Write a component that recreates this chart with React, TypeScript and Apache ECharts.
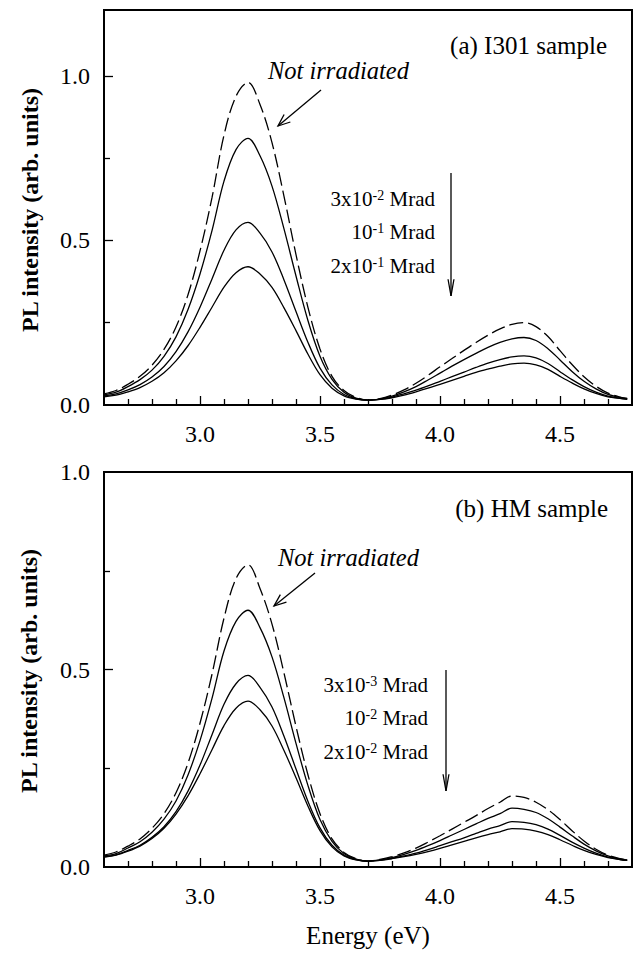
import React, { useEffect, useRef } from "react";
import * as echarts from "echarts";

// Photon energy (eV)
const energy = [
  2.6, 2.65, 2.7, 2.75, 2.8, 2.85, 2.9, 2.95, 3.0, 3.05, 3.1, 3.15, 3.2, 3.25, 3.3, 3.35, 3.4, 3.45, 3.5, 3.55,
  3.6, 3.65, 3.7, 3.75, 3.8, 3.85, 3.9, 3.95, 4.0, 4.05, 4.1, 4.15, 4.2, 4.25, 4.3, 4.35, 4.4, 4.45, 4.5, 4.55,
  4.6, 4.65, 4.7, 4.75, 4.78,
];

// (a) I301 sample
const i301NotIrradiated = [
  0.034, 0.044, 0.063, 0.087, 0.121, 0.169, 0.237, 0.335, 0.468, 0.63, 0.82, 0.938, 0.98, 0.913, 0.797, 0.634,
  0.457, 0.296, 0.17, 0.087, 0.044, 0.023, 0.015,
  0.019, 0.03, 0.046, 0.066, 0.09, 0.116, 0.141, 0.166, 0.19, 0.212, 0.231, 0.245, 0.25, 0.238, 0.208, 0.165,
  0.123, 0.086, 0.057, 0.036, 0.024, 0.02,
];
const i301Dose1 = [
  0.031, 0.039, 0.056, 0.077, 0.106, 0.148, 0.207, 0.29, 0.398, 0.53, 0.68, 0.776, 0.81, 0.757, 0.665, 0.535,
  0.392, 0.256, 0.148, 0.078, 0.039, 0.021, 0.015,
  0.018, 0.027, 0.04, 0.056, 0.076, 0.097, 0.118, 0.138, 0.157, 0.175, 0.19, 0.201, 0.205, 0.196, 0.171, 0.137,
  0.102, 0.072, 0.049, 0.032, 0.023, 0.019,
];
const i301Dose2 = [
  0.028, 0.034, 0.046, 0.062, 0.085, 0.117, 0.162, 0.222, 0.297, 0.383, 0.47, 0.532, 0.555, 0.522, 0.465, 0.38,
  0.284, 0.19, 0.112, 0.061, 0.032, 0.019, 0.015,
  0.017, 0.024, 0.034, 0.045, 0.058, 0.072, 0.086, 0.1, 0.114, 0.127, 0.138, 0.146, 0.149, 0.143, 0.126, 0.101,
  0.077, 0.056, 0.039, 0.027, 0.02, 0.018,
];
const i301Dose3 = [
  0.025, 0.03, 0.04, 0.053, 0.072, 0.098, 0.134, 0.18, 0.236, 0.297, 0.358, 0.402, 0.42, 0.398, 0.357, 0.295,
  0.226, 0.154, 0.092, 0.051, 0.028, 0.018, 0.015,
  0.017, 0.022, 0.03, 0.04, 0.051, 0.063, 0.075, 0.087, 0.099, 0.109, 0.118, 0.125, 0.127, 0.122, 0.108, 0.087,
  0.067, 0.049, 0.035, 0.025, 0.02, 0.017,
];

// (b) HM sample
const hmNotIrradiated = [
  0.03, 0.038, 0.053, 0.071, 0.098, 0.135, 0.188, 0.263, 0.364, 0.488, 0.63, 0.73, 0.765, 0.705, 0.615, 0.491,
  0.356, 0.233, 0.135, 0.071, 0.037, 0.021, 0.015,
  0.019, 0.026, 0.036, 0.048, 0.063, 0.079, 0.096, 0.113, 0.13, 0.148, 0.164, 0.18, 0.176, 0.164, 0.145, 0.12,
  0.092, 0.066, 0.045, 0.03, 0.021, 0.018,
];
const hmDose1 = [
  0.028, 0.034, 0.048, 0.064, 0.088, 0.121, 0.167, 0.233, 0.32, 0.427, 0.547, 0.622, 0.65, 0.606, 0.532, 0.428,
  0.313, 0.206, 0.12, 0.065, 0.034, 0.02, 0.015,
  0.018, 0.024, 0.032, 0.042, 0.054, 0.067, 0.081, 0.095, 0.109, 0.123, 0.135, 0.149, 0.146, 0.138, 0.122, 0.101,
  0.079, 0.058, 0.041, 0.028, 0.02, 0.018,
];
const hmDose2 = [
  0.026, 0.031, 0.042, 0.055, 0.075, 0.102, 0.14, 0.192, 0.258, 0.335, 0.412, 0.464, 0.485, 0.455, 0.405, 0.331,
  0.248, 0.166, 0.099, 0.055, 0.03, 0.019, 0.015,
  0.017, 0.022, 0.028, 0.035, 0.044, 0.054, 0.064, 0.074, 0.085, 0.096, 0.105, 0.115, 0.113, 0.107, 0.096, 0.08,
  0.063, 0.048, 0.035, 0.025, 0.019, 0.017,
];
const hmDose3 = [
  0.025, 0.03, 0.04, 0.053, 0.072, 0.098, 0.134, 0.18, 0.236, 0.297, 0.358, 0.402, 0.42, 0.398, 0.357, 0.295,
  0.226, 0.154, 0.092, 0.051, 0.028, 0.018, 0.015,
  0.017, 0.021, 0.026, 0.032, 0.039, 0.047, 0.056, 0.065, 0.074, 0.082, 0.089, 0.097, 0.096, 0.091, 0.082, 0.069,
  0.055, 0.042, 0.032, 0.024, 0.019, 0.017,
];

// Axis ticks and labels
const xLabelValues = [3.0, 3.5, 4.0, 4.5];
const xMinorTicks = [2.7, 2.8, 2.9, 3.1, 3.2, 3.3, 3.4, 3.6, 3.7, 3.8, 3.9, 4.1, 4.2, 4.3, 4.4, 4.6, 4.7];
const yLabelValuesTop = [0.0, 0.5, 1.0];
const yMajorTicksTop = [0.5, 1.0];
const yLabelValuesBottom = [0.0, 0.5, 1.0];
const yMajorTicksBottom = [0.5];
const yMinorTicks = [0.25, 0.75];

const FONT = '"Liberation Serif", "Times New Roman", Times, serif';

const zip = (ys: number[]) => energy.map((e, i) => [e, ys[i]]);

function arrowEls(x1: number, y1: number, x2: number, y2: number, head: number, angDeg: number) {
  const dx = x1 - x2;
  const dy = y1 - y2;
  const len = Math.hypot(dx, dy);
  const ux = dx / len;
  const uy = dy / len;
  const a = (angDeg * Math.PI) / 180;
  const c = Math.cos(a);
  const s = Math.sin(a);
  const p1 = [x2 + head * (ux * c - uy * s), y2 + head * (ux * s + uy * c)];
  const p2 = [x2 + head * (ux * c + uy * s), y2 + head * (-ux * s + uy * c)];
  const st = { stroke: "#000", lineWidth: 1.3, fill: "none" };
  return [
    { type: "line", shape: { x1, y1, x2, y2 }, style: st, silent: true },
    { type: "polyline", shape: { points: [p1, [x2, y2], p2] }, style: st, silent: true },
  ];
}

function doseLabel(x: number, y: number, pre: string, sup: string) {
  return {
    type: "text",
    x,
    y,
    silent: true,
    style: {
      text: `{n|${pre}}{s|${sup}}{n| Mrad}`,
      align: "right",
      verticalAlign: "middle",
      fill: "#000",
      rich: {
        n: { fontSize: 21, fontFamily: FONT, fill: "#000", lineHeight: 22 },
        s: { fontSize: 14, fontFamily: FONT, fill: "#000", verticalAlign: "top", lineHeight: 14 },
      },
    },
  };
}

function plainText(x: number, y: number, text: string, size: number, align: string, extra: any = {}) {
  return {
    type: "text",
    x,
    y,
    silent: true,
    ...extra,
    style: {
      text,
      fontSize: size,
      fontFamily: FONT,
      fill: "#000",
      align,
      verticalAlign: "middle",
      ...(extra.style || {}),
    },
  };
}

export default function App() {
  const ref = useRef<HTMLDivElement>(null);

  useEffect(() => {
    if (!ref.current) return;
    const chart = echarts.init(ref.current, null, { renderer: "svg" });

    const grids = [
      { left: 104, top: 10, width: 528, height: 395 },
      { left: 104, top: 472, width: 528, height: 395 },
    ].map((g) => ({ ...g, show: true, borderColor: "#000", borderWidth: 2, backgroundColor: "transparent" }));

    const xMain = (gi: number) => ({
      type: "value",
      gridIndex: gi,
      min: 2.6,
      max: 4.8,
      position: "bottom",
      axisLine: { show: false },
      splitLine: { show: false },
      axisTick: { show: true, inside: true, length: 6, customValues: xMinorTicks, lineStyle: { color: "#000", width: 1.3 } },
      axisLabel: {
        customValues: xLabelValues,
        formatter: (v: number) => v.toFixed(1),
        fontSize: 24,
        fontFamily: FONT,
        color: "#000",
        margin: 17,
      },
    });
    const xMajor = (gi: number) => ({
      type: "value",
      gridIndex: gi,
      min: 2.6,
      max: 4.8,
      position: "bottom",
      axisLine: { show: false },
      splitLine: { show: false },
      axisTick: { show: true, inside: true, length: 9, customValues: xLabelValues, lineStyle: { color: "#000", width: 1.3 } },
      axisLabel: { show: false },
    });
    const yMain = (gi: number, max: number, labels: number[]) => ({
      type: "value",
      gridIndex: gi,
      min: 0,
      max,
      position: "left",
      axisLine: { show: false },
      splitLine: { show: false },
      axisTick: { show: true, inside: true, length: 6, customValues: yMinorTicks, lineStyle: { color: "#000", width: 1.3 } },
      axisLabel: {
        customValues: labels,
        formatter: (v: number) => v.toFixed(1),
        fontSize: 24,
        fontFamily: FONT,
        color: "#000",
        margin: 14,
      },
    });
    const yMajor = (gi: number, max: number, ticks: number[]) => ({
      type: "value",
      gridIndex: gi,
      min: 0,
      max,
      position: "left",
      axisLine: { show: false },
      splitLine: { show: false },
      axisTick: { show: true, inside: true, length: 9, customValues: ticks, lineStyle: { color: "#000", width: 1.3 } },
      axisLabel: { show: false },
    });

    const line = (data: number[], xi: number, yi: number, dashed: boolean) => ({
      type: "line",
      xAxisIndex: xi,
      yAxisIndex: yi,
      data: zip(data),
      showSymbol: false,
      symbol: "none",
      smooth: 0.35,
      silent: true,
      lineStyle: { color: "#000", width: 1.3, type: dashed ? [14, 5] : "solid" },
    });

    const graphics: any[] = [
      plainText(30, 210, "PL intensity (arb. units)", 24, "center", {
        rotation: Math.PI / 2,
        style: { fontWeight: "bold" },
      }),
      plainText(29, 671, "PL intensity (arb. units)", 24, "center", {
        rotation: Math.PI / 2,
        style: { fontWeight: "bold" },
      }),
      plainText(368, 935, "Energy (eV)", 25, "center"),
      // panel (a)
      plainText(607, 45, "(a) I301 sample", 25, "right"),
      plainText(268, 70, "Not irradiated", 24.5, "left", { style: { fontStyle: "italic" } }),
      ...arrowEls(321, 90, 278, 126, 13, 22),
      doseLabel(435, 199, "3x10", "-2"),
      doseLabel(435, 232, "10", "-1"),
      doseLabel(435, 266, "2x10", "-1"),
      ...arrowEls(451, 173, 451, 296, 17, 10),
      // panel (b)
      plainText(608, 508, "(b) HM sample", 25, "right"),
      plainText(278, 557, "Not irradiated", 24.5, "left", { style: { fontStyle: "italic" } }),
      ...arrowEls(315, 573, 274, 606, 13, 22),
      doseLabel(428, 685, "3x10", "-3"),
      doseLabel(428, 718, "10", "-2"),
      doseLabel(428, 752, "2x10", "-2"),
      ...arrowEls(446, 670, 446, 791, 17, 10),
    ];

    chart.setOption({
      animation: false,
      backgroundColor: "#fff",
      grid: grids,
      xAxis: [xMain(0), xMajor(0), xMain(1), xMajor(1)],
      yAxis: [
        yMain(0, 1.2, yLabelValuesTop),
        yMajor(0, 1.2, yMajorTicksTop),
        yMain(1, 1.0, yLabelValuesBottom),
        yMajor(1, 1.0, yMajorTicksBottom),
      ],
      series: [
        line(i301NotIrradiated, 0, 0, true),
        line(i301Dose1, 0, 0, false),
        line(i301Dose2, 0, 0, false),
        line(i301Dose3, 0, 0, false),
        line(hmNotIrradiated, 2, 2, true),
        line(hmDose1, 2, 2, false),
        line(hmDose2, 2, 2, false),
        line(hmDose3, 2, 2, false),
      ],
      graphic: { elements: graphics },
    });

    return () => chart.dispose();
  }, []);

  return (
    <div
      ref={ref}
      style={{ position: "absolute", left: 0, top: 0, width: 636, height: 954, background: "#fff" }}
    />
  );
}
